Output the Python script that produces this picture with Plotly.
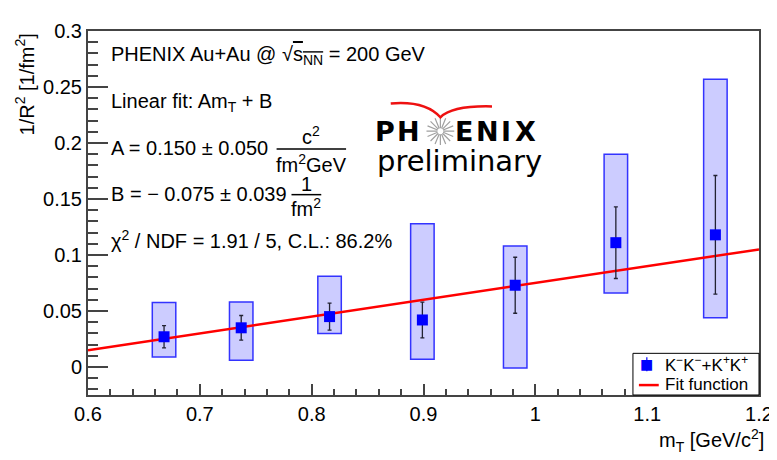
import math
import plotly.graph_objects as go

# kaon pair HBT: 1/R^2 vs m_T
mt = [0.668, 0.737, 0.816, 0.899, 0.982, 1.072, 1.161]
inv_r2 = [0.027, 0.035, 0.045, 0.042, 0.073, 0.111, 0.118]
stat_err = [0.010, 0.011, 0.012, 0.016, 0.025, 0.032, 0.053]
sys_low = [0.009, 0.006, 0.030, 0.007, -0.001, 0.066, 0.044]
sys_high = [0.0575, 0.058, 0.081, 0.128, 0.108, 0.190, 0.257]

fit_x = [0.6, 1.2]
fit_y = [0.015, 0.105]

W, H = 777, 460
OFF = 8  # page body margin shifts the figure by 8px
L, T = 88 - OFF, 28 - OFF
R, B = W - (764 - OFF), H - (395 - OFF)
PW, PH = W - L - R, H - T - B
FONT = "Liberation Sans, Arial, sans-serif"


# helpers take positions measured on the screen
def px(x):
    return (x - OFF - L) / PW


def py(y):
    return (H - B - (y - OFF)) / PH


fig = go.Figure()

# systematic boxes
fig.add_trace(go.Bar(
    x=mt, y=[h - l for h, l in zip(sys_high, sys_low)], base=sys_low, width=0.021,
    marker=dict(color="#ccccff", line=dict(color="#3333ff", width=1.5)),
    hoverinfo="skip", showlegend=False,
))

fig.add_trace(go.Scatter(
    x=fit_x, y=fit_y, mode="lines", line=dict(color="#ff0000", width=2.5),
    showlegend=False,
))

fig.add_trace(go.Scatter(
    x=mt, y=inv_r2, mode="markers",
    marker=dict(symbol="square", size=11, color="#0000ff"),
    error_y=dict(type="data", array=stat_err, color="#222233", thickness=1.3, width=2),
    showlegend=False,
))

ann = []
shapes = []


def text(x, y, s, size=20, xanchor="left", **kw):
    ann.append(dict(x=px(x), y=py(y), xref="paper", yref="paper", text=s, showarrow=False,
                    xanchor=xanchor, yanchor="middle", font=dict(family=FONT, size=size, color="black"), **kw))


def seg(x0, y0, x1, y1, color="black", width=1.5):
    shapes.append(dict(type="line", xref="paper", yref="paper", x0=px(x0), x1=px(x1),
                       y0=py(y0), y1=py(y1), line=dict(color=color, width=width)))


text(109, 53, "PHENIX Au+Au @ \u221a<span style='text-decoration:overline'>s<sub>NN</sub></span> = 200 GeV")
text(109, 100, "Linear fit: Am<sub>T</sub> + B")
text(109, 146, "A = 0.150 \u00b1 0.050")
text(313, 133, "c<sup>2</sup>", xanchor="center")
seg(278, 147, 348, 147)
text(313, 162, "fm<sup>2</sup>GeV", xanchor="center")
text(109, 192, "B = \u2212 0.075 \u00b1 0.039")
text(308, 182, "1", xanchor="center")
seg(293, 193, 323, 193)
text(308, 206, "fm<sup>2</sup>", xanchor="center")
text(109, 238, "\u03c7<sup>2</sup> / NDF = 1.91 / 5, C.L.: 86.2%")

# axis titles
ann.append(dict(x=px(24), y=py(28), xref="paper", yref="paper", text="1/R<sup>2</sup> [1/fm<sup>2</sup>]",
                textangle=-90, showarrow=False, xanchor="center", yanchor="top",
                font=dict(family=FONT, size=20, color="black")))
text(771, 441, "m<sub>T</sub> [GeV/c<sup>2</sup>]", size=20, xanchor="right")

# PHENIX preliminary logo
for ch, cx in zip("PHENIX", [387, 411, 467, 490, 509, 529]):
    ann.append(dict(x=px(cx), y=py(129), xref="paper", yref="paper", text="<b>" + ch + "</b>",
                    showarrow=False, xanchor="center", yanchor="middle",
                    font=dict(family="DejaVu Sans", size=27, color="black")))
ann.append(dict(x=px(462), y=py(159), xref="paper", yref="paper", text="preliminary", showarrow=False,
                xanchor="center", yanchor="middle", font=dict(family="DejaVu Sans", size=29, color="black")))

cx, cy = 443, 129
star = ""
for k in range(16):
    a = k * math.pi / 8
    star += "M {:.5f},{:.5f} L {:.5f},{:.5f} ".format(
        px(cx + 3 * math.cos(a)), py(cy + 3 * math.sin(a)),
        px(cx + 14 * math.cos(a)), py(cy + 14 * math.sin(a)))
shapes.append(dict(type="path", xref="paper", yref="paper", path=star, line=dict(color="#a0a0a0", width=1.2)))
swoosh = "M {},{} Q {},{} {},{} Q {},{} {},{}".format(
    px(393), py(101), px(428), py(98), px(443), py(115),
    px(455), py(103), px(495), py(104))
shapes.append(dict(type="path", xref="paper", yref="paper", path=swoosh, line=dict(color="#ee1111", width=2.5)))

# legend box
shapes.append(dict(type="rect", xref="paper", yref="paper", x0=px(637), x1=px(764), y0=py(395), y1=py(353),
                   fillcolor="white", line=dict(color="black", width=1)))
seg(651, 357, 651, 371, color="#0000ff", width=1.2)
ann.append(dict(x=px(651), y=py(364), xref="paper", yref="paper", text="\u25a0", showarrow=False,
                xanchor="center", yanchor="middle", font=dict(family="DejaVu Sans", size=14, color="#0000ff")))
text(667, 364, "K<sup>\u2212</sup>K<sup>\u2212</sup>+K<sup>+</sup>K<sup>+</sup>", size=17)
seg(643, 385, 663, 385, color="#ff0000", width=2.5)
text(667, 384, "Fit function", size=17)

axis_common = dict(showgrid=False, zeroline=False, showline=True, linecolor="#444444", linewidth=2,
                   mirror=True, ticks="inside", tickcolor="#444444", tickwidth=1.5,
                   tickfont=dict(family=FONT, size=20, color="black"))

fig.update_layout(
    width=W, height=H, margin=dict(l=L, r=R, t=T, b=B),
    plot_bgcolor="white", paper_bgcolor="white", showlegend=False,
    xaxis=dict(range=[0.6, 1.2], dtick=0.1, tick0=0.6, ticklen=11,
               minor=dict(dtick=0.02, ticklen=6, ticks="inside", tickcolor="#444444", tickwidth=1.5),
               **axis_common),
    yaxis=dict(range=[-0.025, 0.3], dtick=0.05, tick0=0, ticklen=20,
               minor=dict(dtick=0.01, ticklen=10, ticks="inside", tickcolor="#444444", tickwidth=1.5),
               **axis_common),
    annotations=ann, shapes=shapes,
)

fig.write_html("out.html")
